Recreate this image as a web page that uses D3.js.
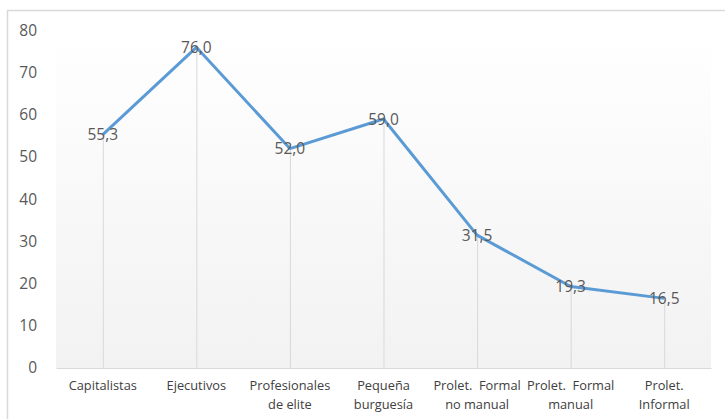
<!DOCTYPE html>
<html><head><meta charset="utf-8">
<script src="https://cdn.jsdelivr.net/npm/d3@7"></script>
<style>body{margin:0;background:#fff}svg{display:block}</style>
</head><body><svg id="c" width="725" height="419"></svg>
<script>
const categories = [["Capitalistas"],["Ejecutivos"],["Profesionales","de elite"],["Pequeña","burguesía"],["Prolet.  Formal","no manual"],["Prolet.  Formal","manual"],["Prolet.","Informal"]];
const values = [55.3, 76.0, 52.0, 59.0, 31.5, 19.3, 16.5];
const yTicks = [0,10,20,30,40,50,60,70,80];

const svg = d3.select("#c");
const m = {l:56, r:711, t:30.4, b:368};
const x = d3.scaleBand().domain(d3.range(categories.length)).range([m.l, m.r]);
const y = d3.scaleLinear().domain([0,80]).range([m.b, m.t]);

// chart border
svg.append("rect").attr("x",7.5).attr("y",10.5).attr("width",730).attr("height",430)
  .attr("fill","#fff").attr("stroke","#d9d9d9").attr("stroke-width",1.5);

const defs = svg.append("defs");
const g = defs.append("linearGradient").attr("id","bg").attr("x1",0).attr("y1",0).attr("x2",0).attr("y2",1);
g.append("stop").attr("offset","0%").attr("stop-color","#ffffff");
g.append("stop").attr("offset","100%").attr("stop-color","#f2f2f2");
svg.append("rect").attr("x",m.l).attr("y",m.t).attr("width",m.r-m.l).attr("height",m.b-m.t).attr("fill","url(#bg)");

// y axis labels
const ya = svg.append("g").attr("transform",`translate(${m.l},0)`)
  .call(d3.axisLeft(y).tickValues(yTicks).tickSize(0).tickPadding(19));
ya.select(".domain").remove();
ya.selectAll("text").attr("font-family","Open Sans, sans-serif").attr("font-size",15.5).attr("fill","#595959");

// x axis
const xa = svg.append("g").attr("transform",`translate(0,${m.b})`)
  .call(d3.axisBottom(x).tickSize(0).tickFormat(""));
xa.select(".domain").attr("stroke","#d9d9d9").attr("stroke-width",1);
const cx = i => x(i) + x.bandwidth()/2;
const xl = svg.append("g");
categories.forEach((lines,i)=>{
  const t = xl.append("text").attr("x",cx(i)).attr("y",m.b+22).attr("text-anchor","middle")
    .attr("font-family","Open Sans, sans-serif").attr("font-size",12.8).attr("fill","#404040");
  lines.forEach((s,j)=>t.append("tspan").attr("x",cx(i)).attr("dy", j===0?0:19).attr("xml:space","preserve").text(s));
});

// drop lines
svg.append("g").selectAll("line").data(values).join("line")
  .attr("x1",(d,i)=>cx(i)+0.5).attr("x2",(d,i)=>cx(i)+0.5)
  .attr("y1",d=>y(d)).attr("y2",m.b).attr("stroke","#d9d9d9").attr("stroke-width",1);

// line
svg.append("path").datum(values)
  .attr("d", d3.line().x((d,i)=>cx(i)).y(d=>y(d)))
  .attr("fill","none").attr("stroke","#5b9bd5").attr("stroke-width",3).attr("stroke-linejoin","round");

// data labels
const fmt = d => d.toFixed(1).replace(".", ",");
svg.append("g").selectAll("text").data(values).join("text")
  .attr("x",(d,i)=>cx(i)).attr("y",d=>y(d)).attr("dy","0.36em").attr("text-anchor","middle")
  .attr("font-family","Open Sans, sans-serif").attr("font-size",15.5).attr("fill","#595959")
  .text(fmt);
</script></body></html>
